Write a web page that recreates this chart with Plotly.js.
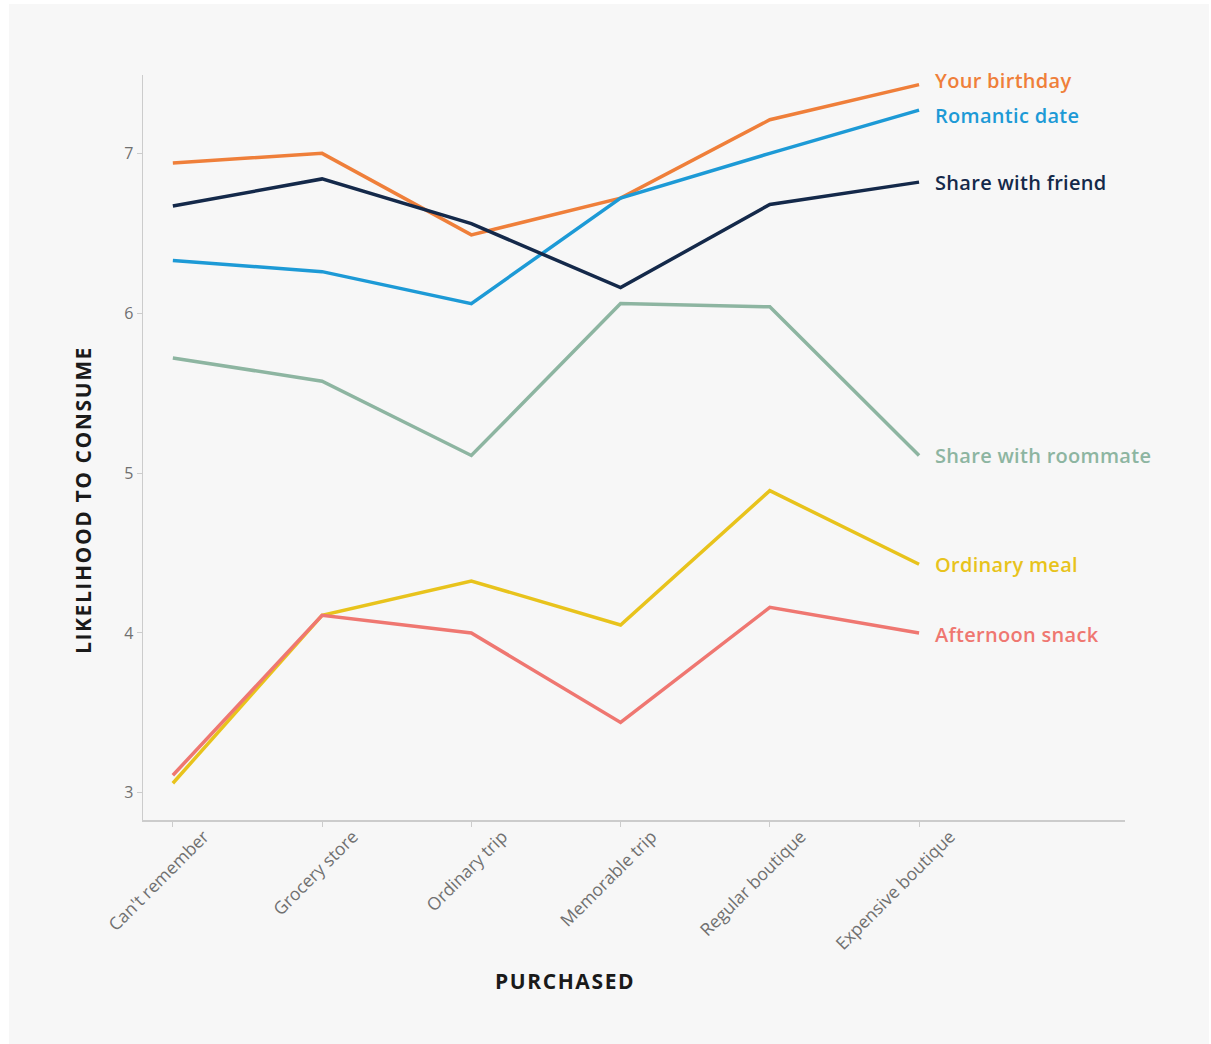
<!DOCTYPE html>
<html><head><meta charset="utf-8">
<script src="https://cdn.plot.ly/plotly-3.0.1.min.js"></script>
<style>
html,body{margin:0;padding:0;background:#fff;}
#card{position:absolute;left:9px;top:4px;width:1200px;height:1040px;background:#f7f7f7;}
#chart{width:1200px;height:1040px;}
</style></head>
<body><div id="card"><div id="chart"></div></div>
<script>
const categories = ["Can't remember","Grocery store","Ordinary trip","Memorable trip","Regular boutique","Expensive boutique"];
const seriesNames = ["Your birthday","Romantic date","Share with friend","Share with roommate","Ordinary meal","Afternoon snack"];
const yourBirthday   = [6.94, 7.00, 6.49, 6.72, 7.21, 7.43];
const romanticDate   = [6.33, 6.26, 6.06, 6.72, 7.00, 7.27];
const shareFriend    = [6.67, 6.84, 6.56, 6.16, 6.68, 6.82];
const shareRoommate  = [5.72, 5.575, 5.11, 6.06, 6.04, 5.11];
const ordinaryMeal   = [3.06, 4.11, 4.325, 4.05, 4.89, 4.43];
const afternoonSnack = [3.11, 4.11, 4.00, 3.44, 4.16, 4.00];
const yTicks = [3,4,5,6,7];

const seriesValues = [yourBirthday, romanticDate, shareFriend, shareRoommate, ordinaryMeal, afternoonSnack];
const colors = ["#ef7f3a","#1d9ad6","#14294a","#8db5a1","#e8c31c","#ef7771"];
const labelShift = [4, -5, 0, 0, 0, -2];
const FONT = '"Open Sans", sans-serif';

const xIdx = categories.map((c,i)=>i);
const traces = seriesValues.map((v,i)=>({
  type:'scatter', mode:'lines', x:xIdx, y:v, name:seriesNames[i],
  line:{color:colors[i], width:3.5}, hoverinfo:'skip'
}));

const annotations = seriesValues.map((v,i)=>({
  x: xIdx[xIdx.length-1], y: v[v.length-1], xref:'x', yref:'y',
  text: '<span style="letter-spacing:0.3px">' + seriesNames[i] + '</span>',
  showarrow:false, xanchor:'left', yanchor:'middle',
  xshift: 14, yshift: labelShift[i],
  font:{family:FONT, size:20, color:colors[i], weight:600}
}));
annotations.push({
  xref:'paper', yref:'paper', x:-0.0611, y:0.4295, textangle:-90, showarrow:false,
  text:'<span style="letter-spacing:1.6px">LIKELIHOOD TO CONSUME</span>', xanchor:'center', yanchor:'middle',
  font:{family:FONT, size:21, color:'#1a1a1a', weight:700}
});
annotations.push({
  xref:'paper', yref:'paper', x:0.4297, y:-0.2161, showarrow:false,
  text:'<span style="letter-spacing:1.6px">PURCHASED</span>', xanchor:'center', yanchor:'middle',
  font:{family:FONT, size:21, color:'#1a1a1a', weight:700}
});

const layout = {
  width:1200, height:1040,
  margin:{l:134, r:84, t:71, b:224},
  paper_bgcolor:'#f7f7f7', plot_bgcolor:'#f7f7f7',
  showlegend:false,
  font:{family:FONT},
  xaxis:{
    range:[-0.2, 6.38], tickmode:'array', tickvals:xIdx, ticktext:categories,
    tickangle:-45, showgrid:false, zeroline:false, showline:true, linecolor:'#cccccc', linewidth:1.5,
    ticks:'outside', ticklen:5, tickcolor:'#cccccc', ticklabelshift:31, ticklabelstandoff:-7,
    tickfont:{family:FONT, size:17.5, color:'#707070'}
  },
  yaxis:{
    range:[2.83, 7.49], tickmode:'array', tickvals:yTicks, ticktext:yTicks.map(String),
    showgrid:false, zeroline:false, showline:true, linecolor:'#cccccc', linewidth:1.5,
    ticks:'outside', ticklen:5, tickcolor:'#cccccc',
    tickfont:{family:FONT, size:16, color:'#707070'}
  },
  annotations:annotations
};
Plotly.newPlot('chart', traces, layout, {displayModeBar:false, staticPlot:true});
</script></body></html>
